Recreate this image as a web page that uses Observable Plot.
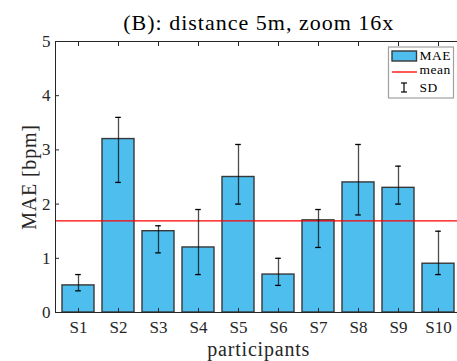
<!DOCTYPE html>
<html><head><meta charset="utf-8">
<script src="https://cdn.jsdelivr.net/npm/d3@7"></script>
<script src="https://cdn.jsdelivr.net/npm/@observablehq/plot@0.6"></script>
<style>html,body{margin:0;padding:0;background:#fff;overflow:hidden}</style>
</head><body><div id="chart"></div>
<script>
const participants = ["S1","S2","S3","S4","S5","S6","S7","S8","S9","S10"];
const maeValues = [0.5, 3.2, 1.5, 1.2, 2.5, 0.7, 1.7, 2.4, 2.3, 0.9];
const sdLower   = [0.4, 2.4, 1.1, 0.7, 2.0, 0.5, 1.2, 1.8, 2.0, 0.7];
const sdUpper   = [0.7, 3.6, 1.6, 1.9, 3.1, 1.0, 1.9, 3.1, 2.7, 1.5];
const yTicks = [0, 1, 2, 3, 4, 5];
const titleText = "(B): distance 5m, zoom 16x";
const xLabel = "participants";
const yLabel = "MAE [bpm]";
const legendLabels = ["MAE", "mean", "SD"];

const data = participants.map((p, i) => ({p, mae: maeValues[i], lo: sdLower[i], hi: sdUpper[i]}));
const meanValue = d3.mean(maeValues);

const FONT = "Liberation Serif";
const AX = "#262626";
const BAR = "#4DBEEE";
const EDGE = "#383838";

const chart = Plot.plot({
  width: 457, height: 361,
  marginTop: 41, marginBottom: 49, marginLeft: 55, marginRight: -4.5,
  style: {background: "#fff", color: AX},
  x: {domain: participants, paddingInner: 0.2, paddingOuter: 0.1, label: null},
  y: {domain: [0, 5], label: null},
  marks: [
    Plot.barY(data, {x: "p", y: "mae", fill: BAR, stroke: EDGE, strokeWidth: 1.4}),
    Plot.ruleY([meanValue], {stroke: "#ff0000", strokeWidth: 1.3}),
    Plot.ruleX(data, {x: "p", y1: "lo", y2: "hi", stroke: "#000", strokeWidth: 1.3, strokeOpacity: 0.7}),
    Plot.tickY(data, {x: "p", y: "lo", stroke: "#000", strokeWidth: 1.3, insetLeft: 13.2, insetRight: 13.2}),
    Plot.tickY(data, {x: "p", y: "hi", stroke: "#000", strokeWidth: 1.3, insetLeft: 13.2, insetRight: 13.2}),
    Plot.frame({stroke: AX, strokeWidth: 1}),
    Plot.axisX({anchor: "bottom", tickSize: -4, tickPadding: 12, fontSize: 17, fontFamily: FONT, label: null, color: AX}),
    Plot.axisX({anchor: "top", tickSize: -4, tickFormat: () => "", label: null, color: AX}),
    Plot.axisY({anchor: "left", ticks: yTicks, tickFormat: d3.format("d"), tickSize: -4, tickPadding: 9, fontSize: 17, fontFamily: FONT, label: null, color: AX}),
    Plot.axisY({anchor: "right", ticks: yTicks, tickSize: -5, tickFormat: () => "", label: null, color: AX}),
    Plot.text([titleText], {text: d => d, frameAnchor: "top", lineAnchor: "middle", dy: -18.5, fontSize: 22, fontFamily: FONT, fill: "#000", className: "ttl"}),
    Plot.text([xLabel], {text: d => d, frameAnchor: "bottom", lineAnchor: "middle", dy: 36.6, fontSize: 20, fontFamily: FONT, fill: AX, className: "lbl"}),
    Plot.text([yLabel], {text: d => d, frameAnchor: "left", textAnchor: "middle", lineAnchor: "middle", dx: -26.4, rotate: -90, fontSize: 20, fontFamily: FONT, fill: AX, className: "lbl"})
  ]
});
document.getElementById("chart").appendChild(chart);

const svg = d3.select(chart);
svg.selectAll(".ttl text").style("letter-spacing", "1px");
svg.selectAll(".lbl text").style("letter-spacing", "0.8px");

// legend
const lg = svg.append("g");
lg.append("rect").attr("x", 388.5).attr("y", 47).attr("width", 65).attr("height", 51)
  .attr("fill", "#fff").attr("stroke", "#a0a0a0").attr("stroke-width", 1.2);
lg.append("rect").attr("x", 392).attr("y", 51).attr("width", 24.5).attr("height", 10)
  .attr("fill", BAR).attr("stroke", EDGE).attr("stroke-width", 1.4);
lg.append("line").attr("x1", 392).attr("x2", 417).attr("y1", 72).attr("y2", 72)
  .attr("stroke", "#ff0000").attr("stroke-width", 1.3);
lg.append("line").attr("x1", 404).attr("x2", 404).attr("y1", 83).attr("y2", 92).attr("stroke", "#000").attr("stroke-width", 1.2);
lg.append("line").attr("x1", 401).attr("x2", 407).attr("y1", 83).attr("y2", 83).attr("stroke", "#000").attr("stroke-width", 1.2);
lg.append("line").attr("x1", 401).attr("x2", 407).attr("y1", 92).attr("y2", 92).attr("stroke", "#000").attr("stroke-width", 1.2);
const ly = [60, 74, 92];
legendLabels.forEach((t, i) => {
  lg.append("text").attr("x", 419.5).attr("y", ly[i]).attr("fill", "#000")
    .attr("text-anchor", "start").attr("font-size", 13.5)
    .style("letter-spacing", "0.5px").text(t);
});
svg.selectAll("text").style("font-family", FONT);
</script></body></html>
